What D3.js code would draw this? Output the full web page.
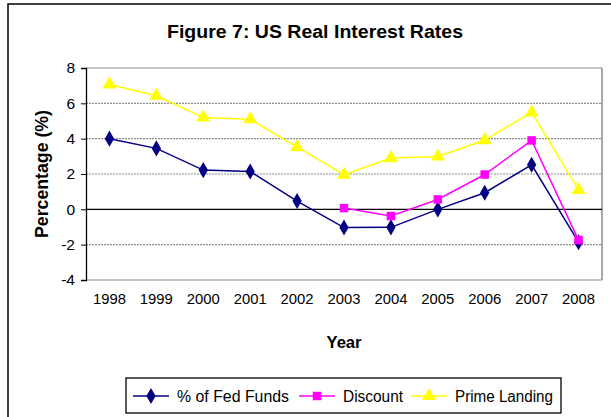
<!DOCTYPE html>
<head>
  <meta charset="utf-8">
  <script src="https://d3js.org/d3.v7.min.js"></script>
  <style>
body { margin: 0; background: #fff; }
svg { display: block; font-family: "Liberation Sans", Arial, sans-serif; }
  </style>
</head>
<body>
<svg width="611" height="417"></svg>
<script>
var years = ["1998","1999","2000","2001","2002","2003","2004","2005","2006","2007","2008"];
var fedFunds = [4.0, 3.45, 2.22, 2.14, 0.47, -1.03, -1.02, 0.0, 0.94, 2.52, -1.86];
var discount = [null, null, null, null, null, 0.07, -0.38, 0.56, 1.97, 3.9, -1.74];
var primeLanding = [7.07, 6.43, 5.2, 5.1, 3.52, 1.96, 2.9, 2.99, 3.92, 5.49, 1.1];
var yTicks = [-4, -2, 0, 2, 4, 6, 8];

var series = [
  {name: "% of Fed Funds", values: fedFunds, color: "#000080", symbol: d3.symbolDiamond, size: 75},
  {name: "Discount", values: discount, color: "#FF00FF", symbol: d3.symbolSquare, size: 72},
  {name: "Prime Landing", values: primeLanding, color: "#FFFF00", symbol: d3.symbolTriangle, size: 85}
];

var svg = d3.select("svg");
var plot = {left: 86, right: 602, top: 68, bottom: 280};

// outer chart frame, runs off the right/bottom of the picture
svg.append("rect")
    .attr("x", 8).attr("y", 4)
    .attr("width", 640).attr("height", 440)
    .attr("fill", "none")
    .attr("stroke", "#000")
    .attr("stroke-width", 1.5);

svg.append("text")
    .attr("x", 315).attr("y", 38)
    .attr("text-anchor", "middle")
    .attr("font-size", 18)
    .attr("font-weight", "bold")
    .attr("textLength", 296)
    .attr("lengthAdjust", "spacingAndGlyphs")
    .text("Figure 7: US Real Interest Rates");

var x = d3.scaleBand()
    .domain(years)
    .range([plot.left, plot.right]);

var y = d3.scaleLinear()
    .domain([-4, 8])
    .range([plot.bottom, plot.top]);

// gridlines
svg.append("g")
  .selectAll("line")
  .data(yTicks.filter(function(d) { return d != 0; }))
  .enter().append("line")
    .attr("x1", plot.left).attr("x2", plot.right)
    .attr("y1", function(d) { return y(d); })
    .attr("y2", function(d) { return y(d); })
    .attr("stroke", "#8c8c8c")
    .attr("stroke-width", 1.2)
    .attr("stroke-dasharray", function(d) { return (d == -4 || d == 8) ? null : "2,1"; });

// plot border right
svg.append("line")
    .attr("x1", plot.right).attr("x2", plot.right)
    .attr("y1", plot.top).attr("y2", plot.bottom)
    .attr("stroke", "#8c8c8c").attr("stroke-width", 1.5);

// zero line
svg.append("line")
    .attr("x1", plot.left).attr("x2", plot.right)
    .attr("y1", y(0)).attr("y2", y(0))
    .attr("stroke", "#000").attr("stroke-width", 1.3);

var yAxis = svg.append("g")
    .attr("transform", "translate(" + plot.left + ",0)")
    .call(d3.axisLeft(y).tickValues(yTicks).tickSize(5).tickPadding(6)
      .tickFormat(function(d) { return String(d); }));
yAxis.select(".domain").attr("stroke", "#000").attr("stroke-width", 1.3);
yAxis.selectAll("text").attr("font-size", 15.5).attr("font-family", "Liberation Sans, Arial, sans-serif").attr("fill", "#000");

var xAxis = svg.append("g")
    .attr("transform", "translate(0," + plot.bottom + ")")
    .call(d3.axisBottom(x).tickSize(0).tickPadding(13));
xAxis.select(".domain").remove();
xAxis.selectAll("text").attr("font-size", 15.5).attr("font-family", "Liberation Sans, Arial, sans-serif").attr("fill", "#000")
    .attr("textLength", 33).attr("lengthAdjust", "spacingAndGlyphs");

svg.append("text")
    .attr("x", (plot.left + plot.right) / 2).attr("y", 348)
    .attr("text-anchor", "middle")
    .attr("font-size", 17).attr("font-weight", "bold")
    .attr("textLength", 35)
    .attr("lengthAdjust", "spacingAndGlyphs")
    .text("Year");

svg.append("text")
    .attr("transform", "translate(48,174) rotate(-90)")
    .attr("text-anchor", "middle")
    .attr("font-size", 17.5).attr("font-weight", "bold")
    .attr("textLength", 128)
    .attr("lengthAdjust", "spacingAndGlyphs")
    .text("Percentage (%)");

var cx = function(i) { return x(years[i]) + x.bandwidth() / 2; };

series.forEach(function(s) {
  var pts = s.values.map(function(v, i) { return {i: i, v: v}; })
      .filter(function(d) { return d.v != null; });
  var line = d3.line()
      .x(function(d) { return cx(d.i); })
      .y(function(d) { return y(d.v); });
  svg.append("path")
      .datum(pts)
      .attr("d", line)
      .attr("fill", "none")
      .attr("stroke", s.color)
      .attr("stroke-width", 1.5);
  svg.append("g")
    .selectAll("path")
    .data(pts)
    .enter().append("path")
      .attr("transform", function(d) { return "translate(" + cx(d.i) + "," + y(d.v) + ")"; })
      .attr("d", d3.symbol().type(s.symbol).size(s.size))
      .attr("fill", s.color);
});

// legend
var legend = svg.append("g");
legend.append("rect")
    .attr("x", 126).attr("y", 378)
    .attr("width", 435).attr("height", 35)
    .attr("fill", "#fff")
    .attr("stroke", "#000")
    .attr("stroke-width", 1.3);

var legendX = [133, 299, 411];
var legendW = [112, 60, 98];
series.forEach(function(s, i) {
  var g = legend.append("g").attr("transform", "translate(" + legendX[i] + ",396)");
  g.append("line")
      .attr("x1", 0).attr("x2", 36)
      .attr("stroke", s.color).attr("stroke-width", 1.5);
  g.append("path")
      .attr("transform", "translate(18,0)")
      .attr("d", d3.symbol().type(s.symbol).size(s.size))
      .attr("fill", s.color);
  g.append("text")
      .attr("x", 44).attr("y", 6)
      .attr("font-size", 16)
      .attr("textLength", legendW[i])
      .attr("lengthAdjust", "spacingAndGlyphs")
      .text(s.name);
});
</script>
</body>
